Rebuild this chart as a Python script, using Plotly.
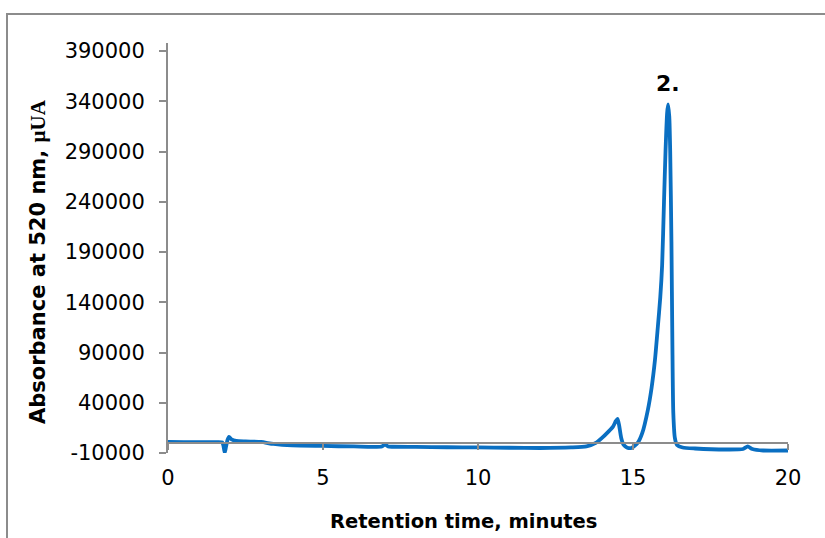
import plotly.graph_objects as go

# Chromatogram trace: retention time (min) vs absorbance at 520 nm (µUA)
retention_time = [
    0.0, 0.5, 1.0, 1.5, 1.75, 1.79, 1.83, 1.87, 1.92, 1.97, 2.05, 2.2, 2.5, 3.0,
    3.4, 4.0, 5.0, 6.0, 6.9, 7.0, 7.1, 7.25, 8.0, 9.0, 10.0, 11.0, 12.0, 13.0,
    13.5, 13.8, 14.0, 14.2, 14.35, 14.45, 14.5, 14.55, 14.62, 14.7, 14.8,
    14.95, 15.15, 15.3, 15.48, 15.6, 15.71, 15.8, 15.88, 15.94, 16.0, 16.05,
    16.1, 16.13, 16.17, 16.2, 16.24, 16.27, 16.3, 16.35, 16.42, 16.6, 17.0,
    18.0, 18.55, 18.7, 18.85, 19.2, 20.0,
]
absorbance = [
    1000, 900, 800, 800, 600, -3000, -9800, -4000, 3000, 6000, 3500, 2000,
    1500, 1000, -1000, -2500, -3000, -3500, -3500, -1500, -3500, -3800,
    -4000, -4300, -4500, -4800, -5000, -4500, -3500, 0, 5000, 11000, 16000,
    22000, 24000, 18000, 5000, -2000, -4500, -5000, 0, 10000, 33000, 55000,
    83000, 115000, 145000, 177000, 240000, 291000, 328000, 337000, 325000,
    290000, 200000, 100000, 30000, 5000, -2000, -4500, -5500, -6500, -6000,
    -3500, -6000, -7500, -7500,
]

# Peak label
peak_labels = ["2."]
peak_label_time = [16.13]
peak_label_level = [357500]

y_range = [-10000, 398000]
y_ticks = [-10000, 40000, 90000, 140000, 190000, 240000, 290000, 340000, 390000]
y_tick_text = [str(v) for v in y_ticks]
x_range = [0, 20]
x_ticks = [0, 5, 10, 15, 20]

x_title = "Retention time, minutes"
y_title = "Absorbance at 520 nm, <span style=\"font-family:'Liberation Serif'\">µUA</span>"

AXIS_GREY = "#8c8c8c"
TICK_FONT = dict(family="DejaVu Sans", size=21, color="black")

# plot-area geometry in pixels
PL, PR, PT, PB = 168, 788, 43, 453
PW, PH = PR - PL, PB - PT


def px_to_paper_x(px):
    return (px - PL) / PW


def px_to_paper_y(py):
    return (PB - py) / PH


fig = go.Figure()
fig.add_trace(go.Scatter(
    x=retention_time, y=absorbance, mode="lines",
    line=dict(color="#0a6fc2", width=3.8, shape="spline", smoothing=0.6),
    showlegend=False, hoverinfo="skip",
))

# invisible trace on the overlaid axis so it renders its ticks
fig.add_trace(go.Scatter(x=x_range, y=[0, 0], xaxis="x2", mode="lines",
                         line=dict(width=0), showlegend=False, hoverinfo="skip"))

for lbl, t, lv in zip(peak_labels, peak_label_time, peak_label_level):
    fig.add_annotation(x=t, y=lv, text=f"<b>{lbl}</b>", showarrow=False,
                       font=dict(family="DejaVu Sans", size=22, color="black"))

# axis titles
fig.add_annotation(xref="paper", yref="paper",
                   x=px_to_paper_x(463), y=px_to_paper_y(521),
                   xanchor="center", yanchor="middle",
                   text=f"<b>{x_title}</b>", showarrow=False,
                   font=dict(family="DejaVu Sans", size=19.5, color="black"))
fig.add_annotation(xref="paper", yref="paper",
                   x=px_to_paper_x(38), y=px_to_paper_y(262), textangle=-90,
                   xanchor="center", yanchor="middle",
                   text=f"<b>{y_title}</b>", showarrow=False,
                   font=dict(family="DejaVu Sans", size=21, color="black"))

# horizontal axis crossing at zero
zero_pos = (0 - y_range[0]) / (y_range[1] - y_range[0])

fig.update_layout(
    width=825, height=538,
    margin=dict(l=PL, r=825 - PR, t=PT, b=538 - PB),
    paper_bgcolor="white", plot_bgcolor="white",
    xaxis=dict(
        range=x_range, tickvals=x_ticks, ticks="", showline=False,
        showgrid=False, zeroline=False, tickfont=TICK_FONT,
        ticklabelstandoff=10,
    ),
    xaxis2=dict(
        range=x_range, tickvals=x_ticks, overlaying="x", anchor="free",
        position=zero_pos, side="bottom", showticklabels=False,
        ticks="outside", ticklen=6, tickcolor=AXIS_GREY, tickwidth=1.5,
        showline=True, linecolor=AXIS_GREY, linewidth=2, showgrid=False,
        zeroline=False,
    ),
    yaxis=dict(
        range=y_range, tickvals=y_ticks, ticktext=y_tick_text,
        ticks="outside", ticklen=7,
        tickcolor=AXIS_GREY, tickwidth=1.5, showline=True,
        linecolor=AXIS_GREY, linewidth=2, showgrid=False, zeroline=False,
        tickfont=TICK_FONT, ticklabelstandoff=10,
    ),
)

# chart-area frame
fig.add_shape(type="rect", xref="paper", yref="paper",
              x0=px_to_paper_x(7), x1=px_to_paper_x(832),
              y0=px_to_paper_y(545), y1=px_to_paper_y(14),
              line=dict(color=AXIS_GREY, width=2), layer="below")

fig.write_html("out.html")
